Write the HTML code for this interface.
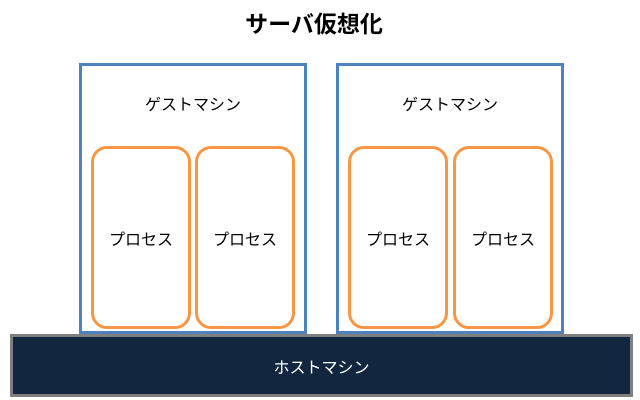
<!DOCTYPE html><html><head><meta charset="utf-8"><style>
body{margin:0;width:640px;height:400px;background:#fff;position:relative;overflow:hidden;font-family:"Liberation Sans","Noto Sans CJK JP",sans-serif}
div{position:absolute;box-sizing:border-box}
.g{border:3px solid #4f81bd;background:#fff;top:63px;width:228px;height:271px}
.gl{top:91px;width:228px;text-align:center;font-size:16px;color:#000}
.p{border:3px solid #f79646;border-radius:16px;background:#fff;top:146px;width:100px;height:183px;display:flex;align-items:center;justify-content:center;font-size:16px}
</style></head><body>
<div style="left:0;width:628px;top:5px;text-align:center;font-size:23px;font-weight:bold">サーバ仮想化</div>
<div class="g" style="left:79px"></div><div class="gl" style="left:79px">ゲストマシン</div>
<div class="g" style="left:336px"></div><div class="gl" style="left:336px">ゲストマシン</div>
<div class="p" style="left:91px">プロセス</div>
<div class="p" style="left:195px">プロセス</div>
<div class="p" style="left:348px">プロセス</div>
<div class="p" style="left:453px">プロセス</div>
<div style="left:10px;top:334px;width:623px;height:63px;background:#12263f;border:3px solid #7f7f7f;color:#fff;font-size:16px;display:flex;align-items:center;justify-content:center">ホストマシン</div>
</body></html>
